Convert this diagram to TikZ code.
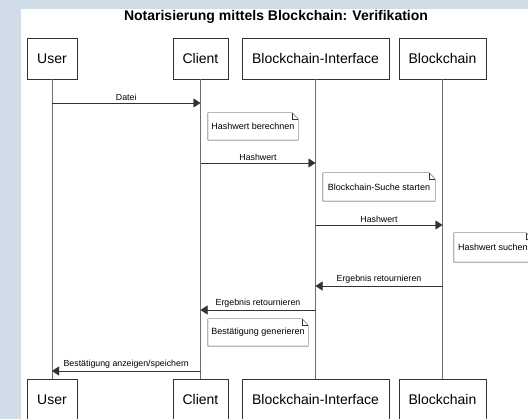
\documentclass[tikz,border=0pt]{standalone}
\usepackage{fontspec}
\setmainfont{Liberation Sans}
\usepackage{xcolor}
\usetikzlibrary{arrows.meta,positioning}

\definecolor{bgblue}{RGB}{208,220,232}
\definecolor{linegray}{RGB}{51,51,51}
\definecolor{lifegray}{RGB}{110,110,110}

% Notiz mit Eselsohr
\newcommand{\drawnote}[1]{%
	\draw[linegray] (#1.south west) |- ([xshift=-6pt]#1.north east) -- ([yshift=-6pt]#1.north east) -- (#1.south east) -- cycle;
	\draw[linegray] ([xshift=-6pt]#1.north east) |- ([yshift=-6pt]#1.north east);
}

\begin{document}
\begin{tikzpicture}[
			x=1pt, y=-1pt,
			actor/.style={rectangle, draw=linegray, fill=white, minimum height=41pt, text centered, font=\fontsize{14}{16}\selectfont},
			note/.style={rectangle, fill=white, inner sep=2pt, text centered, font=\fontsize{9}{11}\selectfont},
			lifeline/.style={draw=lifegray},
			msg/.style={draw=linegray, -{Triangle[length=7pt,width=9pt]}},
			lbl/.style={above, midway, inner sep=2.5pt, font=\fontsize{8.8}{10}\selectfont}
			]
			
			% 背景
			\fill[bgblue] (0,0) rectangle (528,419);
			\fill[white] (21,9) rectangle (528,419);
			\useasboundingbox (0,0) rectangle (528,419);
			
			\node[font=\bfseries\fontsize{14}{16}\selectfont] (title) at (276,17) {Notarisierung mittels Blockchain: Verifikation};
			
			% 节点定义
			\node (userH) [actor, minimum width=50pt] at (52,58.5) {User};
			\node (clientH) [actor, minimum width=55pt] at (200.5,58.5) {Client};
			\node (bciH) [actor, minimum width=147pt] at (315.5,58.5) {Blockchain-Interface};
			\node (bcH) [actor, minimum width=87pt] at (442.5,58.5) {Blockchain};
			\node (userF) [actor, minimum width=50pt, below=300pt of userH] {User};
			\node (clientF) [actor, minimum width=55pt, below=300pt of clientH] {Client};
			\node (bciF) [actor, minimum width=147pt, below=300pt of bciH] {Blockchain-Interface};
			\node (bcF) [actor, minimum width=87pt, below=300pt of bcH] {Blockchain};
			
			% 生命线
			\draw [lifeline] (userH) -- (userF);
			\draw [lifeline] (clientH) -- (clientF);
			\draw [lifeline] (bciH) -- (bciF);
			\draw [lifeline] (bcH) -- (bcF);
			
			% 消息
			\coordinate (r1) at (0,103);
			\coordinate (r2) at (0,163);
			\coordinate (r3) at (0,225);
			\coordinate (r4) at (0,286);
			\coordinate (r5) at (0,310);
			\coordinate (r6) at (0,371);
			
			\draw [msg] (userH |- r1) -- (clientH |- r1) node[lbl] {Datei};
			\draw [msg] (clientH |- r2) -- (bciH |- r2) node[lbl] {Hashwert};
			\draw [msg] (bciH |- r3) -- (bcH |- r3) node[lbl] {Hashwert};
			\draw [msg] (bcH |- r4) -- (bciH |- r4) node[lbl] {Ergebnis retournieren};
			\draw [msg] (bciH |- r5) -- (clientH |- r5) node[lbl] {Ergebnis retournieren};
			\draw [msg] (clientH |- r6) -- (userH |- r6) node[lbl] {Bestätigung anzeigen/speichern};
			
			% 注释
			\node (n1) [note, minimum width=90pt, minimum height=27pt] at (253,126.5) {Hashwert berechnen};
			\node (n2) [note, minimum width=112pt, minimum height=28pt] at (379,187) {Blockchain-Suche starten};
			\node (n3) [note, minimum width=78pt, minimum height=29pt] at (493,247.5) {Hashwert suchen};
			\node (n4) [note, minimum width=100pt, minimum height=27pt] at (258,332.5) {Bestätigung generieren};
			\drawnote{n1}
			\drawnote{n2}
			\drawnote{n3}
			\drawnote{n4}
			
		\end{tikzpicture}
\end{document}
